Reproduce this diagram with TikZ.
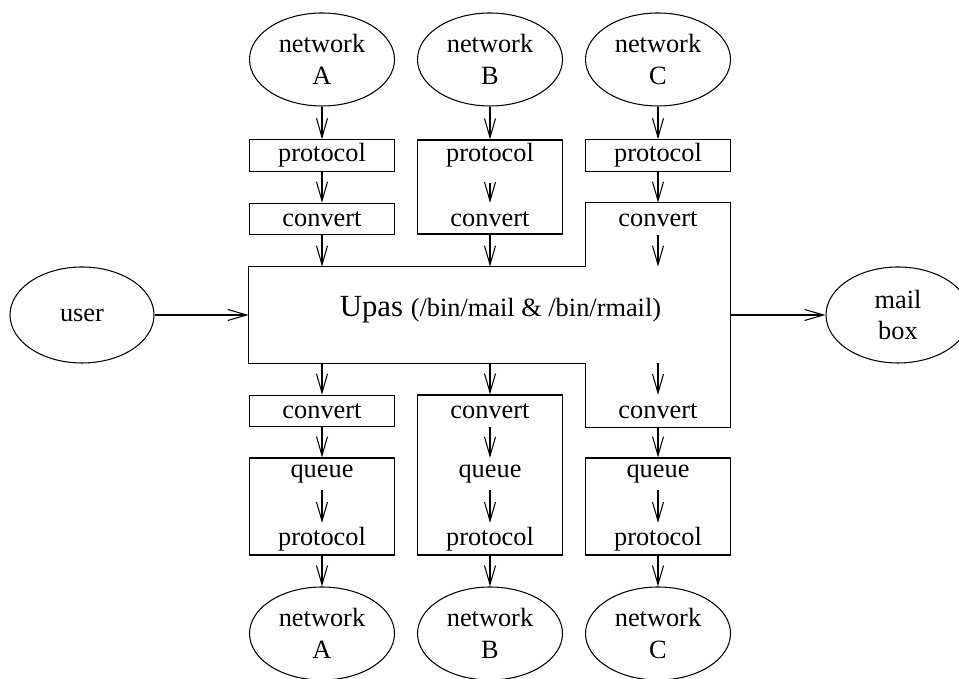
\documentclass[tikz,border=0pt]{standalone}
\usepackage{fontspec}
\setmainfont{Liberation Serif}
\usetikzlibrary{shapes.geometric, arrows.meta}

\begin{document}
\begin{tikzpicture}
		\tikzset{oval/.style={ellipse, draw, line width=0.6pt, minimum width=2.9cm, minimum height=1.86cm, align=center, inner sep=0},
			kasten/.style={rectangle, draw, line width=0.6pt, minimum width=2.9cm, minimum height=0.63cm, inner sep=0},
			wort/.style={rectangle, minimum width=2.9cm, minimum height=0.63cm, inner sep=0},
			pfeil/.style={line width=0.6pt, -{Straight Barb[length=0.38cm, width=0.22cm]}},
			every node/.style={font=\fontsize{15}{18}\selectfont}}
		\useasboundingbox (0, 0) rectangle (19.18, 13.58);

        \node[oval] at (6.44, 12.39) (nA) {network\\A};
        \node[oval] at (9.80, 12.39) (nB) {network\\B};
        \node[oval] at (13.16, 12.39) (nC) {network\\C};

        \node[kasten] at (6.44, 10.47) (pA) {protocol};
        \node[kasten] at (6.44, 9.2) (cA) {convert};
        \node[kasten, minimum height=1.88cm] at (9.80, 9.84) (kB) {};
        \node[wort] at (9.80, 10.47) (pB) {protocol};
        \node[wort] at (9.80, 9.2) (cB) {convert};
        \node[kasten] at (13.16, 10.47) (pC) {protocol};
        \node[wort] at (13.16, 9.2) (cC) {convert};

        \node[wort, minimum width=9.62cm, minimum height=1.92cm] at (9.79, 7.28) (upas) {};
        \node[wort, minimum width=2.88cm, minimum height=4.48cm] at (13.16, 7.28) (upasC) {};
        \node[anchor=base] at (10.01, 7.24) (utext) {\fontsize{17.5}{21}\selectfont Upas \fontsize{15}{18}\selectfont(/bin/mail \& /bin/rmail)};
        \node[oval, minimum width=2.88cm, minimum height=1.92cm] at (1.64, 7.28) (user) {user};
        \node[oval, minimum width=2.88cm, minimum height=1.92cm] at (17.96, 7.28) (mbox) {mail\\box};

        \node[kasten] at (6.44, 5.36) (cA2) {convert};
        \node[kasten, minimum height=1.94cm] at (6.44, 3.45) (kA) {};
        \node[wort] at (6.44, 4.1) (qA) {queue};
        \node[wort] at (6.44, 2.8) (pA2) {protocol};
        \node[kasten, minimum height=3.2cm] at (9.80, 4.08) (kB2) {};
        \node[wort] at (9.80, 5.36) (cB2) {convert};
        \node[wort] at (9.80, 4.1) (qB) {queue};
        \node[wort] at (9.80, 2.8) (pB2) {protocol};
        \node[wort] at (13.16, 5.36) (cC2) {convert};
        \node[kasten, minimum height=1.94cm] at (13.16, 3.45) (kC) {};
        \node[wort] at (13.16, 4.1) (qC) {queue};
        \node[wort] at (13.16, 2.8) (pC2) {protocol};

        \node[oval] at (6.44, 0.91) (nA2) {network\\A};
        \node[oval] at (9.80, 0.91) (nB2) {network\\B};
        \node[oval] at (13.16, 0.91) (nC2) {network\\C};

			% Upas outline
			\draw[line width=0.6pt] (upas.north west) -- (upas.north -| upasC.west) -- (upasC.north west) -- (upasC.north east) -- (upasC.south east) -- (upasC.south west) -- (upas.south -| upasC.west) -- (upas.south west) -- cycle;

			\draw[pfeil] (nA) -- (pA);
			\draw[pfeil] (pA) -- (cA);
			\draw[pfeil] (cA) -- (cA |- upas.north);
			\draw[pfeil] (nB) -- (kB);
			\draw[pfeil, shorten <=0.22cm] (pB) -- (cB);
			\draw[pfeil] (kB) -- (kB |- upas.north);
			\draw[pfeil] (nC) -- (pC);
			\draw[pfeil] (pC) -- (upasC);
			\draw[pfeil] (cC) -- (cC |- upas.north);

			\draw[pfeil] (user) -- (upas);
			\draw[pfeil] (upas) -- (mbox);

			% Outgoing
			\draw[pfeil] (cA2 |- upas.south) -- (cA2);
			\draw[pfeil] (kB2 |- upas.south) -- (kB2);
			\draw[pfeil] (cC2 |- upas.south) -- (cC2);
			\draw[pfeil] (cA2) -- (kA);
			\draw[pfeil] (qA) -- (pA2);
			\draw[pfeil] (cB2) -- (qB);
			\draw[pfeil] (qB) -- (pB2);
			\draw[pfeil] (upasC) -- (kC);
			\draw[pfeil] (qC) -- (pC2);
			\draw[pfeil] (kA) -- (nA2);
			\draw[pfeil] (kB2) -- (nB2);
			\draw[pfeil] (kC) -- (nC2);

	\end{tikzpicture}
\end{document}
